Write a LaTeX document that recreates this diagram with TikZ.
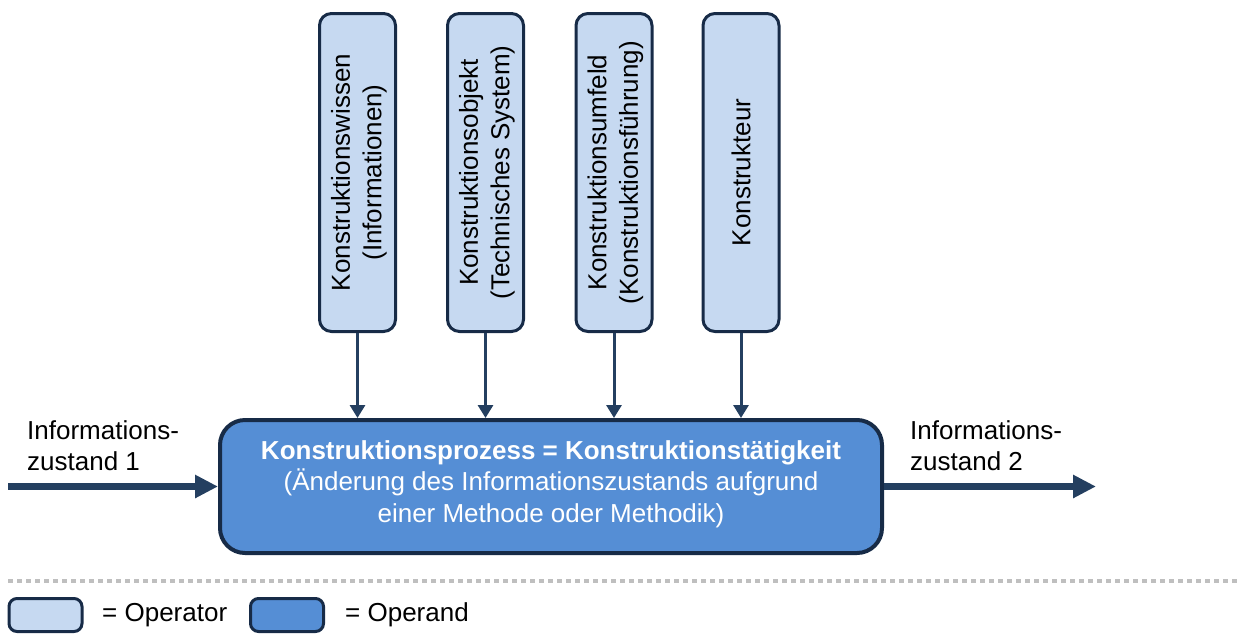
\documentclass[tikz,border=0pt]{standalone}
\usepackage{fontspec}
\setmainfont{Liberation Sans}
\usetikzlibrary{arrows.meta}
\definecolor{opfill}{HTML}{C6D9F1}
\definecolor{andfill}{HTML}{558ED5}
\definecolor{rim}{HTML}{172B47}
\definecolor{flow}{HTML}{243F60}
\definecolor{sep}{HTML}{BFBFBF}
\tikzset{
  txt/.style={font=\fontsize{26}{31.5}\selectfont, inner sep=0pt},
  opbox/.style={draw=rim, fill=opfill, line width=3pt, rounded corners=12pt,
    minimum width=76pt, minimum height=318pt, inner sep=0pt},
  andbox/.style={draw=rim, fill=andfill, line width=4pt, rounded corners=25pt,
    minimum width=662pt, minimum height=133pt, inner sep=0pt},
  oplabel/.style={txt, rotate=90, align=center},
  feed/.style={draw=flow, line width=3pt, -{Triangle[length=13pt,width=15pt]}},
  flowarrow/.style={draw=flow, line width=7pt, -{Triangle[length=23pt,width=22pt]}},
  keybox/.style={draw=rim, line width=3pt, rounded corners=8pt,
    minimum width=73pt, minimum height=33pt, inner sep=0pt},
}
\begin{document}
\begin{tikzpicture}[x=1pt, y=-1pt]
\useasboundingbox (0,0) rectangle (1241,635);

% operators feeding the design process
\node[opbox] (op1) at (357.5,172.5) {};
\node[opbox] (op2) at (485.5,172.5) {};
\node[opbox] (op3) at (614,172.5) {};
\node[opbox] (op4) at (741,172.5) {};
\node[oplabel] (t1) at ([xshift=1.5pt]op1.center) {Konstruktionswissen\\(Informationen)};
\node[oplabel] (t2) at ([xshift=1.5pt]op2.center) {Konstruktionsobjekt\\(Technisches System)};
\node[oplabel] (t3) at ([xshift=1.5pt]op3.center) {Konstruktionsumfeld\\(Konstruktionsführung)};
\node[oplabel] (t4) at (op4.center) {Konstrukteur};

% operand: the design process itself
\node[andbox] (proc) at (551,486.5) {};
\node[txt, text=white, align=center] (ptxt) at ([yshift=2.5pt]proc.center)
  {\textbf{Konstruktionsprozess = Konstruktionstätigkeit}\\
   (Änderung des Informationszustands aufgrund\\
   einer Methode oder Methodik)};

\foreach \i in {1,...,4}
  \draw[feed] (op\i.south) -- (proc.north -| op\i.south);

% information state in and out
\coordinate (src) at (8,486.5);
\coordinate (dst) at (1096,486.5);
\draw[flowarrow] (src) -- (proc.west);
\draw[flowarrow] (proc.east) -- (dst);
\node[txt, align=left, anchor=north west] (lin) at (27,420) {Informations-\\zustand 1};
\node[txt, align=left, anchor=north west] (lout) at (910,420) {Informations-\\zustand 2};

% separator
\coordinate (s1) at (8,581);
\coordinate (s2) at (1241,581);
\draw[sep, line width=4.5pt, dash pattern=on 5pt off 4pt] (s1) -- (s2);

% key
\node[keybox, fill=opfill] (k1) at (45.5,615) {};
\node[txt, anchor=west] (k1t) at (102,615) {= Operator};
\node[keybox, fill=andfill] (k2) at (287,615) {};
\node[txt, anchor=west] (k2t) at (345,615) {= Operand};
\end{tikzpicture}
\end{document}
